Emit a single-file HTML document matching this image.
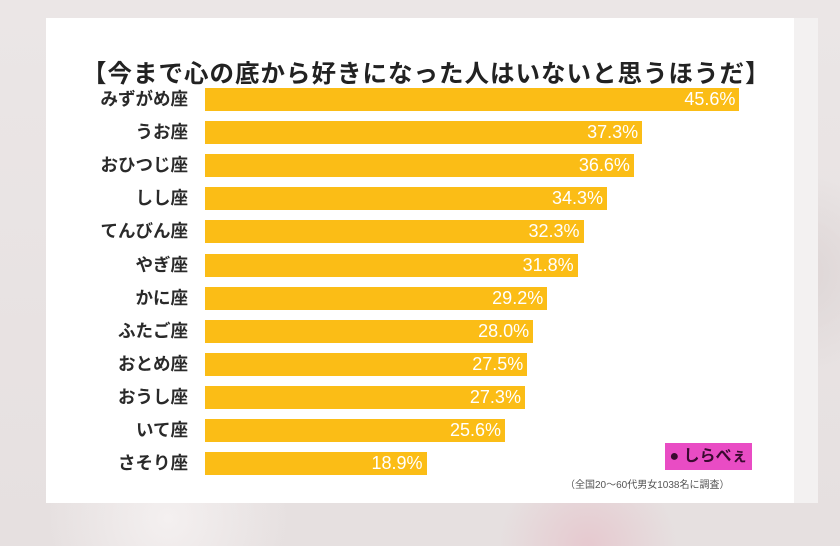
<!DOCTYPE html>
<html><head><meta charset="utf-8"><style>
body{margin:0;width:840px;height:546px;overflow:hidden;background:#e9e3e3;font-family:"Liberation Sans","Noto Sans CJK JP",sans-serif;position:relative}
.bg{position:absolute;inset:0;background:radial-gradient(circle at 20% 95%,#f4f0f0 0,transparent 120px),radial-gradient(circle at 70% 100%,#e6c9cf 0,transparent 90px),radial-gradient(circle at 95% 50%,#ddd5d5 0,transparent 100px),linear-gradient(#ebe6e6,#e6e0e0)}
.card{position:absolute;left:46px;top:18px;width:748px;height:485px;background:#fff}
.strip{position:absolute;left:794px;top:18px;width:24px;height:485px;background:#f3f1f1}
.title{position:absolute;left:82px;top:55px;width:676px;overflow:hidden;font-size:24.5px;font-weight:bold;color:#222;white-space:nowrap;letter-spacing:1px}
.lab{position:absolute;right:652px;font-size:17.5px;font-weight:bold;color:#2a2a2a;white-space:nowrap;line-height:23px}
.bar{position:absolute;left:205px;height:23px;background:#fbbd16}
.val{position:absolute;right:4px;top:0;line-height:23px;font-size:18px;color:#fff}
.logo{position:absolute;left:665px;top:443px;width:87px;height:27px;background:#e94cc4;color:#3a0a30;font-size:16px;font-weight:bold;line-height:27px;text-align:center}
.note{position:absolute;left:565px;top:476px;font-size:10px;color:#555;white-space:nowrap}
</style></head><body>
<div class="bg"></div><div class="card"></div><div class="strip"></div>
<div class="title">【今まで心の底から好きになった人はいないと思うほうだ】</div>
<div id="c"></div>
<div class="logo">● しらべぇ</div>
<div class="note">（全国20〜60代男女1038名に調査）</div>
<script>
var d=[["みずがめ座",45.6],["うお座",37.3],["おひつじ座",36.6],["しし座",34.3],["てんびん座",32.3],["やぎ座",31.8],["かに座",29.2],["ふたご座",28.0],["おとめ座",27.5],["おうし座",27.3],["いて座",25.6],["さそり座",18.9]];
var h="";d.forEach(function(r,i){var y=88+i*33.1;h+='<div class="lab" style="top:'+y+'px">'+r[0]+'</div><div class="bar" style="top:'+y+'px;width:'+(r[1]*11.72)+'px"><span class="val">'+r[1].toFixed(1)+'%</span></div>';});
document.getElementById("c").innerHTML=h;
</script>
</body></html>
